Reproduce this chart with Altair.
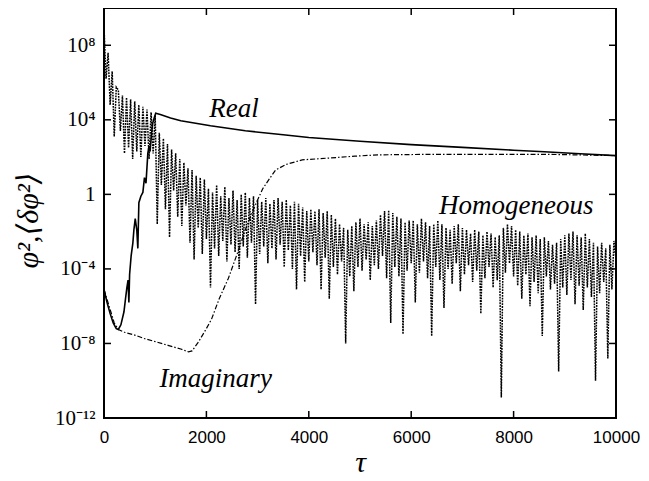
import math
import altair as alt
import pandas as pd

# ---- data (log10 of the plotted quantity) ----
real_tau = [0, 60, 120, 180, 240, 280, 330, 390, 420, 447, 470, 486, 500, 530, 564, 584,
            610, 640, 661, 681, 720, 759, 790, 820, 856, 880, 900, 930, 953, 980, 1010,
            1100, 1300, 1500, 2080, 2760, 3500, 4000, 5000, 6000, 7000, 8000, 8600, 9300, 10000]
real_log = [-5.1, -5.8, -6.4, -6.9, -7.2, -7.25, -7.0, -6.3, -5.6, -5.0, -4.6, -5.8, -4.3, -3.3, -2.6, -1.9,
            -1.3, -1.9, -2.9, -0.45, -0.1, 0.1, 0.9, 0.6, 2.2, 2.6, 2.3, 3.3, 3.84, 4.1, 4.35,
            4.28, 4.1, 3.95, 3.68, 3.41, 3.2, 3.05, 2.85, 2.67, 2.52, 2.37, 2.29, 2.18, 2.08]

imag_tau = [0, 100, 200, 280, 400, 600, 800, 1000, 1250, 1500, 1650, 1720, 1850, 2000, 2100,
            2250, 2430, 2600, 2760, 2950, 3100, 3210, 3350, 3550, 3870, 4400, 4900, 5350,
            6500, 7300, 8600, 10000]
imag_log = [-5.1, -6.0, -6.9, -7.25, -7.4, -7.55, -7.75, -7.9, -8.1, -8.3, -8.45, -8.4, -7.9, -7.2, -6.7,
            -5.6, -4.5, -3.2, -1.9, -0.6, 0.3, 0.75, 1.3, 1.6, 1.85, 1.95, 2.05, 2.12,
            2.15, 2.15, 2.15, 2.08]

homog_tau = list(range(0, 10001, 40))
homog_log = [
    9.0, 6.2, 7.6, 4.8, 6.6, 3.1, 5.75, 5.6, 3.4, 5.3, 2.2, 5.2, 2.5, 5.1, 1.9, 5.0, 2.3, 4.8, 2.0, 4.7,
    2.6, 4.55, 1.9, 4.4, 2.2, 4.25,
    -1.6, 3.3, 0.5, 3.0, -0.8, 2.7, -2.3, 2.4, 0.2, 2.2, -1.2, 1.9, -1.7, 1.7, -0.6, 1.4, -2.6, 1.3,
    -3.5, 1.0, -1.8, 0.9, -3.2, 0.8, -2.4,
    0.3, -5.0, 0.1, -2.9, 0.5, -3.3, -0.1, -2.5, 0.4, -3.6, -0.2, -2.7, 0.2, -3.1, -0.3, -4.0, 0.0,
    -2.8, 0.1, -3.4, -0.2, -2.6, -0.1, -5.9, -0.3,
    -3.2, -0.4, -2.8, -0.2, -3.7, -0.5, -2.9, -0.3, -3.5, -0.2, -2.7, -0.4, -3.9, -0.3, -3.0, -0.6,
    -4.0, -0.4, -5.1, -0.5, -3.3, -0.7, -4.7, -0.9, -3.6,
    -0.8, -3.1, -0.9, -3.8, -0.8, -5.1, -1.0, -3.4, -0.9, -5.6, -1.1, -3.9, -1.3, -4.3, -1.6, -3.6,
    -1.8, -8.0, -1.9, -4.4, -1.7, -5.2, -1.5, -3.9, -1.3,
    -4.1, -1.6, -3.5, -1.5, -4.6, -1.7, -3.8, -1.4, -4.0, -1.1, -3.3, -0.9, -4.5, -0.85, -6.9, -1.0,
    -3.9, -1.2, -4.4, -1.3, -7.5, -1.5, -4.1, -1.4, -3.7,
    -1.4, -5.8, -1.6, -4.2, -1.3, -3.6, -1.5, -4.5, -1.7, -7.6, -1.6, -3.9, -1.4, -4.6, -1.6, -6.1,
    -1.8, -4.0, -1.9, -4.8, -1.7, -3.7, -1.6, -5.2, -1.8,
    -4.3, -1.9, -3.8, -2.1, -4.7, -1.9, -4.1, -2.0, -6.4, -2.2, -4.5, -2.0, -3.9, -2.1, -5.0, -2.3,
    -4.6, -2.2, -10.9, -1.8, -4.2, -1.6, -3.7, -1.7, -4.4,
    -1.9, -4.9, -2.0, -5.6, -2.2, -4.3, -2.1, -6.0, -2.3, -4.7, -2.2, -5.3, -2.4, -7.6, -2.3, -4.4,
    -2.5, -5.1, -2.7, -4.8, -2.6, -9.5, -2.4, -5.0, -2.2,
    -5.4, -2.1, -4.6, -2.0, -5.9, -2.2, -4.9, -2.3, -6.2, -2.1, -5.0, -2.4, -5.5, -2.6, -10.0, -2.8,
    -5.3, -2.6, -4.7, -2.9, -8.8, -2.7, -5.1, -2.5, -3.5,
]

x_ticks = [0, 2000, 4000, 6000, 8000, 10000]
y_ticks = [1e-12, 1e-8, 1e-4, 1, 1e4, 1e8]
y_tick_labels = ["10⁻¹²", "10⁻⁸", "10⁻⁴", "1", "10⁴", "10⁸"]

label_text = ["Real", "Homogeneous", "Imaginary"]
label_tau = [2540, 8050, 2180]
label_log = [4.6, -0.6, -9.9]

# ---- frames ----
real_df = pd.DataFrame({"tau": real_tau, "val": [10 ** v for v in real_log]})
imag_df = pd.DataFrame({"tau": imag_tau, "val": [10 ** v for v in imag_log]})
homog_df = pd.DataFrame({"tau": homog_tau, "val": [10 ** v for v in homog_log]})
lab_df = pd.DataFrame({"text": label_text, "tau": label_tau, "val": [10 ** v for v in label_log]})
xt_df = pd.DataFrame({"tau": x_ticks[1:-1]})
yt_df = pd.DataFrame({"val": y_ticks[1:]})

W, H = 512, 410
TL = 7

# y tick label expression built from the arrays (nested ternary)
expr = "''"
for v, t in zip(reversed(y_ticks), reversed(y_tick_labels)):
    expr = f"abs(log(datum.value)/log(10) - ({math.log10(v):.0f})) < 0.01 ? '{t}' : " + expr

xscale = alt.Scale(domain=[0, 10000], nice=False, zero=False)
yscale = alt.Scale(type="log", domain=[1e-12, 1e10], nice=False)

xaxis = alt.Axis(values=x_ticks, format="d", ticks=False, domain=False, grid=False,
                 labelFont="Liberation Sans", labelFontSize=17, labelColor="black",
                 labelPadding=11, labelFlush=False, labelOverlap=False,
                 title="τ", titleFont="Liberation Serif", titleFontStyle="italic",
                 titleFontSize=30, titleFontWeight="normal", titleColor="black", titlePadding=2)
yaxis = alt.Axis(values=y_ticks, ticks=False, domain=False, grid=False, labelExpr=expr,
                 labelFont="Liberation Serif", labelFontSize=21, labelColor="black",
                 labelPadding=9, labelFlush=False, labelOverlap=False,
                 title="φ²,⟨δφ²⟩", titleFont="Liberation Serif, DejaVu Serif",
                 titleFontStyle="italic", titleFontSize=30, titleFontWeight="normal",
                 titleColor="black", titleX=-76, titleY=212, titleAngle=270,
                 titleAlign="center", titleBaseline="middle")

xenc = alt.X("tau:Q", scale=xscale, axis=xaxis)
yenc = alt.Y("val:Q", scale=yscale, axis=yaxis)

homog = alt.Chart(homog_df).mark_line(color="black", strokeWidth=1.5, strokeDash=[1.8, 1.0],
                                       clip=True).encode(x=xenc, y=yenc)
imag = alt.Chart(imag_df).mark_line(color="black", strokeWidth=1.2, strokeDash=[5, 2, 1.5, 2],
                                     clip=True).encode(x=xenc, y=yenc)
real = alt.Chart(real_df).mark_line(color="black", strokeWidth=1.6, clip=True).encode(x=xenc, y=yenc)

labels = alt.Chart(lab_df).mark_text(font="Liberation Serif", fontStyle="italic", fontSize=27,
                                     color="black", align="center", baseline="middle").encode(
    x=xenc, y=yenc, text="text:N")

tick_bottom = alt.Chart(xt_df).mark_rule(color="black", strokeWidth=1.5).encode(
    x=xenc, y=alt.value(H), y2=alt.value(H - TL))
tick_top = alt.Chart(xt_df).mark_rule(color="black", strokeWidth=1.5).encode(
    x=xenc, y=alt.value(0), y2=alt.value(TL))
tick_left = alt.Chart(yt_df).mark_rule(color="black", strokeWidth=1.5).encode(
    y=yenc, x=alt.value(0), x2=alt.value(TL))
tick_right = alt.Chart(yt_df).mark_rule(color="black", strokeWidth=1.5).encode(
    y=yenc, x=alt.value(W - TL), x2=alt.value(W))

chart = alt.layer(homog, imag, real, labels, tick_bottom, tick_top, tick_left, tick_right).properties(
    width=W, height=H,
    autosize=alt.AutoSizeParams(type="none"),
    padding={"left": 96, "top": 0, "right": 25, "bottom": 63},
    background="white",
).configure_view(stroke="black", strokeWidth=2)

chart.save("out.html", embed_options={"renderer": "svg", "actions": False})
